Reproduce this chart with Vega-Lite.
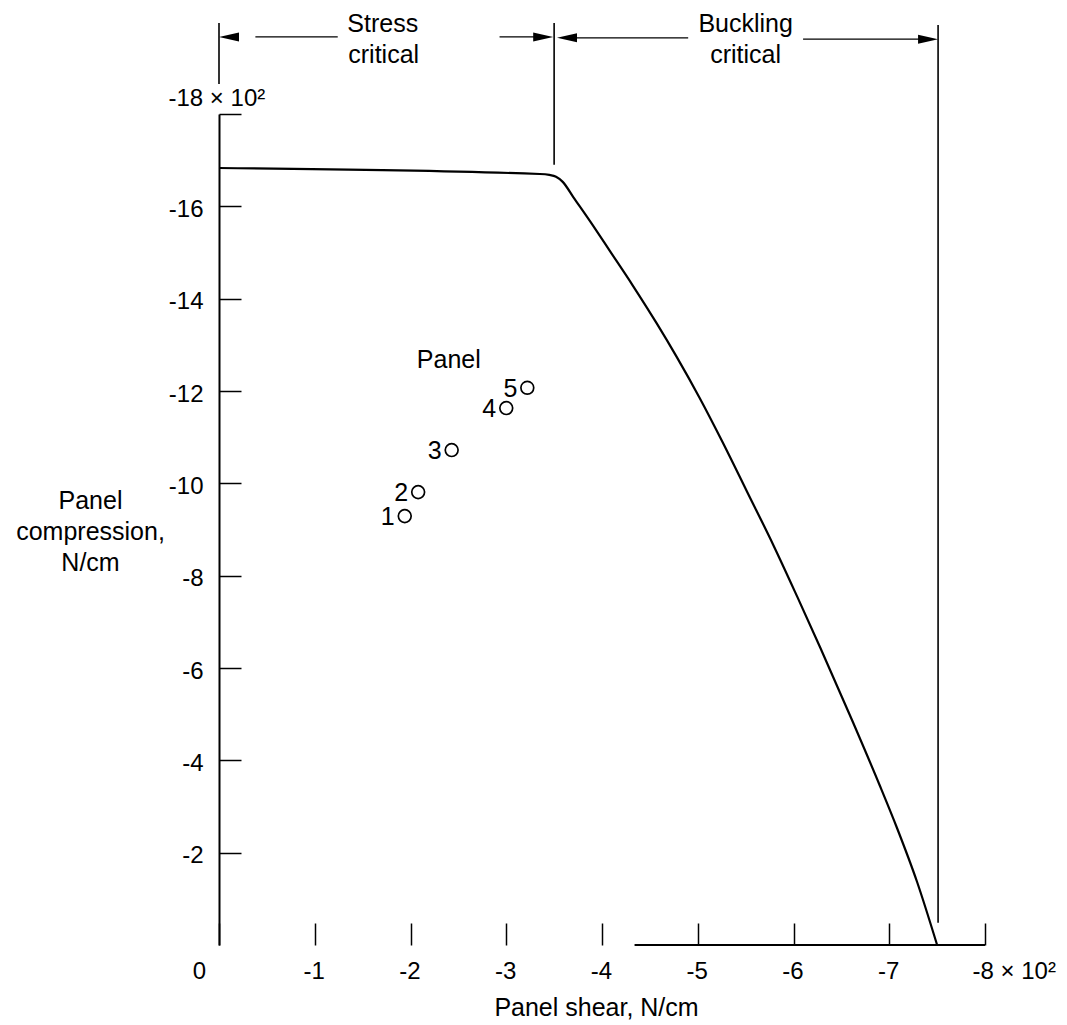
{
  "$schema": "https://vega.github.io/schema/vega-lite/v6.json",
  "width": 766,
  "height": 831,
  "autosize": "none",
  "padding": {"left": 219, "top": 114, "right": 82, "bottom": 80},
  "background": "white",
  "config": {"view": {"stroke": null}, "font": "Liberation Sans"},
  "datasets": {
    "curve": [
      {"x": 0, "y": -1683}, {"x": -335, "y": -1670}, {"x": -345, "y": -1668}, {"x": -352, "y": -1664}, {"x": -359, "y": -1653},
      {"x": -370, "y": -1620}, {"x": -391, "y": -1557}, {"x": -408, "y": -1504}, {"x": -432, "y": -1429},
      {"x": -457, "y": -1347}, {"x": -478, "y": -1274}, {"x": -502, "y": -1185}, {"x": -526, "y": -1089},
      {"x": -551, "y": -984}, {"x": -579, "y": -866}, {"x": -604, "y": -754}, {"x": -628, "y": -644},
      {"x": -662, "y": -483}, {"x": -690, "y": -346}, {"x": -708, "y": -254}, {"x": -729, "y": -137},
      {"x": -750, "y": 0}
    ],
    "points": [
      {"panel": "1", "x": -194, "y": -929},
      {"panel": "2", "x": -208, "y": -981},
      {"panel": "3", "x": -243, "y": -1072},
      {"panel": "4", "x": -300, "y": -1163},
      {"panel": "5", "x": -322, "y": -1207}
    ],
    "bounds": [
      {"x": 0, "y": -1997, "y2": -1865},
      {"x": -350, "y": -1997, "y2": -1690},
      {"x": -751, "y": -1993, "y2": -48}
    ],
    "arrowlines": [
      {"x": -38, "x2": -124, "y": -1967},
      {"x": -293, "x2": -330, "y": -1967},
      {"x": -372, "x2": -490, "y": -1965},
      {"x": -610, "x2": -731, "y": -1962}
    ],
    "headsLeft": [
      {"x": 0, "y": -1967},
      {"x": -353, "y": -1965}
    ],
    "headsRight": [
      {"x": -349, "y": -1967},
      {"x": -751, "y": -1962}
    ],
    "baseline": [
      {"x": -434, "x2": -800, "y": 0}
    ],
    "notes": [
      {"label": "Stress", "x": -171, "y": -1978},
      {"label": "critical", "x": -172, "y": -1910},
      {"label": "Buckling", "x": -550, "y": -1978},
      {"label": "critical", "x": -550, "y": -1910},
      {"label": "Panel", "x": -240, "y": -1250}
    ]
  },
  "encoding": {
    "x": {
      "field": "x", "type": "quantitative",
      "scale": {"domain": [0, -800], "nice": false, "zero": false},
      "axis": {
        "values": [0, -100, -200, -300, -400, -500, -600, -700, -800],
        "labelExpr": "datum.value == 0 ? '0' : (datum.value == -800 ? '-8 × 10²' : '-' + format(abs(datum.value) / 100, 'd'))",
        "domain": false, "grid": false,
        "tickSize": -22, "tickWidth": 1.5, "tickColor": "black",
        "labelPadding": 55, "labelBaseline": "alphabetic",
        "labelAlign": {"condition": {"test": "datum.value == -800", "value": "left"}, "value": "center"},
        "labelOffset": {"condition": [{"test": "datum.value == 0", "value": -20}, {"test": "datum.value == -800", "value": -13}], "value": -1},
        "labelFontSize": 24, "labelColor": "black", "labelFlush": false, "labelOverlap": false,
        "title": "Panel shear, N/cm", "titleFontSize": 25, "titleFontWeight": "normal", "titleColor": "black",
        "titleX": 377, "titleY": 70, "titleAlign": "center", "titleBaseline": "alphabetic"
      }
    },
    "y": {
      "field": "y", "type": "quantitative",
      "scale": {"domain": [0, -1800], "nice": false, "zero": false},
      "axis": {
        "values": [-200, -400, -600, -800, -1000, -1200, -1400, -1600, -1800],
        "labelExpr": "datum.value == -1800 ? '-18 × 10²' : '-' + format(abs(datum.value) / 100, 'd')",
        "domain": true, "domainColor": "black", "domainWidth": 2, "grid": false,
        "tickSize": -22, "tickWidth": 1.5, "tickColor": "black",
        "labelPadding": {"condition": {"test": "datum.value == -1800", "value": 73}, "value": 38},
        "labelAlign": {"condition": {"test": "datum.value == -1800", "value": "left"}, "value": "right"},
        "labelOffset": {"condition": {"test": "datum.value == -1800", "value": -16}, "value": 3},
        "labelBaseline": "middle",
        "labelFontSize": 24, "labelColor": "black", "labelFlush": false, "labelOverlap": false,
        "title": ["Panel", "compression,", "N/cm"], "titleFontSize": 25, "titleFontWeight": "normal", "titleColor": "black",
        "titleAngle": 0, "titleAlign": "center", "titleBaseline": "alphabetic", "titleLineHeight": 31,
        "titleX": -129, "titleY": 394
      }
    }
  },
  "layer": [
    {"data": {"name": "curve"}, "mark": {"type": "line", "color": "black", "strokeWidth": 2.2, "interpolate": "monotone"}},
    {"data": {"name": "bounds"}, "mark": {"type": "rule", "color": "black", "strokeWidth": 1.6},
     "encoding": {"y2": {"field": "y2"}}},
    {"data": {"name": "arrowlines"}, "mark": {"type": "rule", "color": "black", "strokeWidth": 1.3},
     "encoding": {"x2": {"field": "x2"}}},
    {"data": {"name": "baseline"}, "mark": {"type": "rule", "color": "black", "strokeWidth": 2},
     "encoding": {"x2": {"field": "x2"}}},
    {"data": {"name": "headsLeft"}, "mark": {"type": "point", "shape": "M 0 0 L 2 -0.45 L 2 0.45 Z", "filled": true, "color": "black", "size": 400, "opacity": 1}},
    {"data": {"name": "headsRight"}, "mark": {"type": "point", "shape": "M 0 0 L -2 -0.45 L -2 0.45 Z", "filled": true, "color": "black", "size": 400, "opacity": 1}},
    {"data": {"name": "points"}, "mark": {"type": "point", "shape": "circle", "filled": false, "color": "black", "size": 165, "strokeWidth": 1.7, "opacity": 1}},
    {"data": {"name": "points"}, "mark": {"type": "text", "align": "right", "baseline": "alphabetic", "dx": -10, "dy": 9, "fontSize": 25, "color": "black"},
     "encoding": {"text": {"field": "panel"}}},
    {"data": {"name": "notes"}, "mark": {"type": "text", "align": "center", "baseline": "alphabetic", "fontSize": 25, "color": "black"},
     "encoding": {"text": {"field": "label"}}}
  ]
}
